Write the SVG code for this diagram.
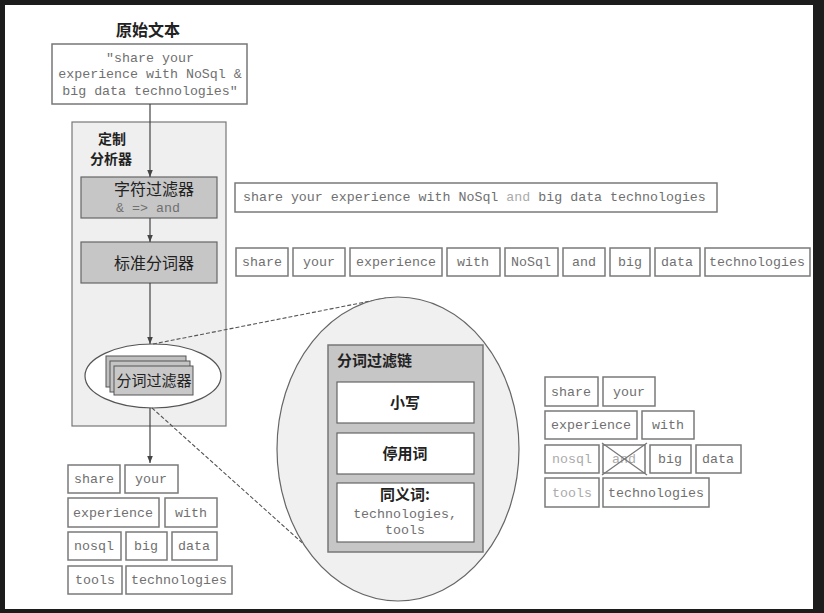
<svg xmlns="http://www.w3.org/2000/svg" width="824" height="613" viewBox="0 0 824 613">
<style>
.cjk{font-family:"Noto Sans CJK SC","Noto Sans",sans-serif;fill:#222}
.mono{font-family:"Liberation Mono","DejaVu Sans Mono",monospace;font-size:13.3px;fill:#707070}
.lt{fill:#ababab}
.tok{fill:#fff;stroke:#7a7a7a;stroke-width:1.5}
.conn{stroke:#444;stroke-width:1.2;fill:none}
.dash{stroke:#555;stroke-width:1.1;fill:none;stroke-dasharray:4 2}
.dk{fill:#c6c6c6;stroke:#666;stroke-width:1.2}
</style>
<defs>
<marker id="ah" viewBox="0 0 10 10" refX="10" refY="5" markerWidth="7" markerHeight="7" markerUnits="userSpaceOnUse" orient="auto">
<path d="M0,1 L10,5 L0,9 Z" fill="#444"/>
</marker>
</defs>
<rect x="0" y="0" width="824" height="613" fill="#1c1c1c"/>
<rect x="5" y="5" width="808" height="604" fill="#fff"/>

<g id="title">
<text class="cjk" x="148" y="36" font-size="16" font-weight="bold" text-anchor="middle">原始文本</text>
</g>
<g id="raw">
<rect x="52" y="44" width="195" height="60" fill="#fff" stroke="#777" stroke-width="1.5"/>
<text class="mono" x="150" y="62" text-anchor="middle">"share your</text>
<text class="mono" x="150" y="78" text-anchor="middle">experience with NoSql &amp;</text>
<text class="mono" x="150" y="95" text-anchor="middle">big data technologies"</text>
</g>
<g id="analyzer">
<rect x="72" y="122" width="154" height="304" fill="#efefef" stroke="#777" stroke-width="1.2"/>
<text class="cjk" x="98" y="144" font-size="14" font-weight="bold">定制</text>
<text class="cjk" x="90" y="164" font-size="14" font-weight="bold">分析器</text>
</g>
<g id="charfilter">
<rect class="dk" x="81" y="177" width="136" height="41"/>
<text class="cjk" x="154" y="195" font-size="16" text-anchor="middle">字符过滤器</text>
<text class="mono" x="148" y="212" text-anchor="middle">&amp; =&gt; and</text>
</g>
<g id="tokenizer">
<rect class="dk" x="81" y="242" width="136" height="41"/>
<text class="cjk" x="154" y="269" font-size="16" text-anchor="middle">标准分词器</text>
</g>
<g id="tokenfilter">
<ellipse cx="153" cy="376" rx="68" ry="32" fill="#fff" stroke="#555" stroke-width="1.2"/>
<rect x="106" y="356" width="80" height="31" fill="#c0c0c0" stroke="#555" stroke-width="1"/>
<rect x="110" y="361" width="80" height="31" fill="#c4c4c4" stroke="#555" stroke-width="1"/>
<rect x="114" y="366" width="79" height="29" fill="#c8c8c8" stroke="#555" stroke-width="1"/>
<text class="cjk" x="154" y="386" font-size="15" text-anchor="middle">分词过滤器</text>
</g>

<g id="connectors">
<line class="conn" x1="150" y1="104" x2="150" y2="177" marker-end="url(#ah)"/>
<line class="conn" x1="150" y1="218" x2="150" y2="242" marker-end="url(#ah)"/>
<line class="conn" x1="150" y1="283" x2="150" y2="344" marker-end="url(#ah)"/>
<line class="conn" x1="150" y1="408" x2="150" y2="463" marker-end="url(#ah)"/>
<line class="dash" x1="153" y1="344" x2="386" y2="298"/>
<line class="dash" x1="152" y1="408" x2="318" y2="557"/>
</g>

<g id="chain">
<ellipse cx="398" cy="449" rx="121" ry="152" fill="#f0f0f0" stroke="#666" stroke-width="1.2"/>
<rect x="328" y="345" width="155" height="207" fill="#c6c6c6" stroke="#777" stroke-width="1.5"/>
<text class="cjk" x="337" y="366" font-size="15" font-weight="bold">分词过滤链</text>
<rect x="337" y="382" width="137" height="41" fill="#fff" stroke="#666" stroke-width="1.2"/>
<text class="cjk" x="405" y="408" font-size="15" font-weight="bold" text-anchor="middle">小写</text>
<rect x="337" y="433" width="137" height="41" fill="#fff" stroke="#666" stroke-width="1.2"/>
<text class="cjk" x="405" y="459" font-size="15" font-weight="bold" text-anchor="middle">停用词</text>
<rect x="337" y="483" width="137" height="59" fill="#fff" stroke="#666" stroke-width="1.2"/>
<text class="cjk" x="405" y="500" font-size="15" font-weight="bold" text-anchor="middle">同义词:</text>
<text class="mono" x="405" y="518" text-anchor="middle">technologies,</text>
<text class="mono" x="405" y="534" text-anchor="middle">tools</text>
</g>

<g id="charfiltered">
<rect class="tok" x="235" y="183" width="482" height="29"/>
<text class="mono" x="243" y="201">share your experience with NoSql <tspan class="lt">and</tspan> big data technologies</text>
</g>

<g id="tokens">
<rect class="tok" x="236" y="248" width="52" height="28"/><text class="mono" x="262" y="266" text-anchor="middle">share</text>
<rect class="tok" x="293" y="248" width="52" height="28"/><text class="mono" x="319" y="266" text-anchor="middle">your</text>
<rect class="tok" x="350" y="248" width="92" height="28"/><text class="mono" x="396" y="266" text-anchor="middle">experience</text>
<rect class="tok" x="447" y="248" width="53" height="28"/><text class="mono" x="473" y="266" text-anchor="middle">with</text>
<rect class="tok" x="505" y="248" width="53" height="28"/><text class="mono" x="531" y="266" text-anchor="middle">NoSql</text>
<rect class="tok" x="563" y="248" width="42" height="28"/><text class="mono" x="584" y="266" text-anchor="middle">and</text>
<rect class="tok" x="610" y="248" width="40" height="28"/><text class="mono" x="630" y="266" text-anchor="middle">big</text>
<rect class="tok" x="655" y="248" width="45" height="28"/><text class="mono" x="677" y="266" text-anchor="middle">data</text>
<rect class="tok" x="705" y="248" width="105" height="28"/><text class="mono" x="757" y="266" text-anchor="middle">technologies</text>
</g>

<g id="filtered">
<rect class="tok" x="545" y="377" width="53" height="29"/><text class="mono" x="571" y="396" text-anchor="middle">share</text>
<rect class="tok" x="603" y="377" width="52" height="29"/><text class="mono" x="629" y="396" text-anchor="middle">your</text>
<rect class="tok" x="545" y="411" width="92" height="28"/><text class="mono" x="591" y="429" text-anchor="middle">experience</text>
<rect class="tok" x="642" y="411" width="52" height="28"/><text class="mono" x="668" y="429" text-anchor="middle">with</text>
<rect class="tok" x="545" y="445" width="54" height="28"/><text class="mono lt" x="572" y="463" text-anchor="middle">nosql</text>
<rect class="tok" x="603" y="445" width="42" height="28"/><text class="mono lt" x="624" y="463" text-anchor="middle">and</text>
<line x1="602" y1="443" x2="647" y2="475" stroke="#777" stroke-width="1.2"/>
<line x1="647" y1="443" x2="602" y2="475" stroke="#777" stroke-width="1.2"/>
<rect class="tok" x="650" y="445" width="41" height="28"/><text class="mono" x="670" y="463" text-anchor="middle">big</text>
<rect class="tok" x="696" y="445" width="45" height="28"/><text class="mono" x="718" y="463" text-anchor="middle">data</text>
<rect class="tok" x="545" y="478" width="54" height="29"/><text class="mono lt" x="572" y="497" text-anchor="middle">tools</text>
<rect class="tok" x="603" y="478" width="106" height="29"/><text class="mono" x="656" y="497" text-anchor="middle">technologies</text>
</g>

<g id="output">
<rect class="tok" x="68" y="465" width="52" height="28"/><text class="mono" x="94" y="483" text-anchor="middle">share</text>
<rect class="tok" x="125" y="465" width="53" height="28"/><text class="mono" x="151" y="483" text-anchor="middle">your</text>
<rect class="tok" x="68" y="498" width="91" height="29"/><text class="mono" x="113" y="517" text-anchor="middle">experience</text>
<rect class="tok" x="165" y="498" width="52" height="29"/><text class="mono" x="191" y="517" text-anchor="middle">with</text>
<rect class="tok" x="68" y="532" width="53" height="28"/><text class="mono" x="94" y="550" text-anchor="middle">nosql</text>
<rect class="tok" x="126" y="532" width="41" height="28"/><text class="mono" x="146" y="550" text-anchor="middle">big</text>
<rect class="tok" x="172" y="532" width="45" height="28"/><text class="mono" x="194" y="550" text-anchor="middle">data</text>
<rect class="tok" x="68" y="566" width="54" height="28"/><text class="mono" x="95" y="584" text-anchor="middle">tools</text>
<rect class="tok" x="126" y="566" width="106" height="28"/><text class="mono" x="179" y="584" text-anchor="middle">technologies</text>
</g>
</svg>
